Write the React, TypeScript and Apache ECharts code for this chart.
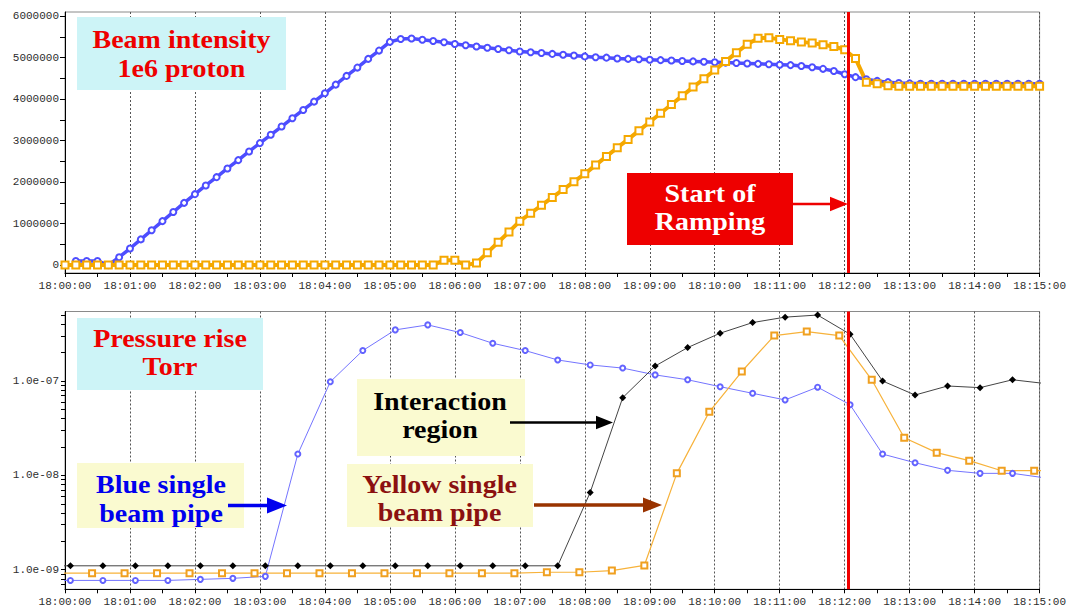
import React, { useEffect, useRef } from "react";
import * as echarts from "echarts";

// ---- Beam intensity (top panel), one sample every 10 s from 18:00:00, in millions of protons
const INTENSITY_STEP_S = 10;
const MILLION = 1e6;

const blueIntensity: (number | null)[] = [
  null, 0.10, 0.10, 0.10, 0.00, 0.19, 0.40, 0.62, 0.84, 1.06,
  1.28, 1.50, 1.71, 1.92, 2.12, 2.33, 2.53, 2.74, 2.94, 3.14,
  3.34, 3.54, 3.74, 3.94, 4.14, 4.35, 4.56, 4.76, 4.97, 5.17,
  5.38, 5.45, 5.46, 5.43, 5.40, 5.37, 5.33, 5.30, 5.27, 5.24,
  5.21, 5.18, 5.15, 5.13, 5.11, 5.09, 5.07, 5.05, 5.03, 5.01,
  5.00, 4.98, 4.97, 4.96, 4.95, 4.94, 4.93, 4.92, 4.91, 4.90,
  4.89, 4.88, 4.87, 4.86, 4.85, 4.84, 4.83, 4.82, 4.80, 4.77,
  4.73, 4.68, 4.60, 4.53, 4.48, 4.44, 4.41, 4.39, 4.38, 4.37,
  4.37, 4.37, 4.37, 4.37, 4.37, 4.37, 4.37, 4.37, 4.37, 4.37,
  4.37,
];

const yellowIntensity: number[] = [
  0.00, 0.00, 0.00, 0.00, 0.00, 0.00, 0.00, 0.00, 0.00, 0.00,
  0.00, 0.00, 0.00, 0.00, 0.00, 0.00, 0.00, 0.00, 0.00, 0.00,
  0.00, 0.00, 0.00, 0.00, 0.00, 0.00, 0.00, 0.00, 0.00, 0.00,
  0.00, 0.00, 0.00, 0.00, 0.00, 0.12, 0.12, 0.00, 0.05, 0.30,
  0.55, 0.80, 1.06, 1.25, 1.44, 1.63, 1.82, 2.01, 2.20, 2.41,
  2.62, 2.83, 3.03, 3.24, 3.45, 3.66, 3.87, 4.08, 4.29, 4.49,
  4.70, 4.91, 5.12, 5.32, 5.47, 5.48, 5.44, 5.41, 5.38, 5.35,
  5.31, 5.27, 5.19, 4.98, 4.41, 4.37, 4.32, 4.31, 4.31, 4.31,
  4.31, 4.31, 4.31, 4.31, 4.31, 4.31, 4.31, 4.31, 4.31, 4.31,
  4.31,
];

// ---- Pressure (bottom panel), Torr, gauges read every 30 s (seconds after 18:00:00)
const blueGaugeTimes = [
  -25, 5, 35, 65, 95, 125, 155, 185, 215, 245, 275, 305, 335, 365, 395, 425,
  455, 485, 515, 545, 575, 605, 635, 665, 695, 725, 755, 785, 815, 845, 875, 905,
];
const bluePipePressure = [
  7.7e-10, 7.7e-10, 7.7e-10, 7.7e-10, 7.7e-10, 7.9e-10, 8.1e-10, 8.5e-10,
  1.68e-8, 9.8e-8, 2.1e-7, 3.48e-7, 3.93e-7, 3.26e-7, 2.51e-7, 2.1e-7,
  1.67e-7, 1.48e-7, 1.37e-7, 1.16e-7, 1.03e-7, 8.7e-8, 7.4e-8, 6.3e-8,
  8.6e-8, 5.6e-8, 1.68e-8, 1.36e-8, 1.13e-8, 1.05e-8, 1.05e-8, 9.4e-9,
];
const interactionPressure = [
  1.1e-9, 1.1e-9, 1.1e-9, 1.1e-9, 1.1e-9, 1.1e-9, 1.1e-9, 1.1e-9,
  1.1e-9, 1.1e-9, 1.1e-9, 1.1e-9, 1.1e-9, 1.1e-9, 1.1e-9, 1.1e-9,
  1.1e-9, 6.6e-9, 6.65e-8, 1.44e-7, 2.26e-7, 3.21e-7, 4.16e-7, 4.75e-7,
  5.0e-7, 3.13e-7, 1.0e-7, 7.1e-8, 8.85e-8, 8.5e-8, 1.03e-7, 9.4e-8,
];
const yellowGaugeTimes = [
  -5, 25, 55, 85, 115, 145, 175, 205, 235, 265, 295, 325, 355, 385, 415, 445,
  475, 505, 535, 565, 595, 625, 655, 685, 715, 745, 775, 805, 835, 865, 895, 925,
];
const yellowPipePressure = [
  9.2e-10, 9.2e-10, 9.2e-10, 9.2e-10, 9.2e-10, 9.2e-10, 9.2e-10, 9.2e-10,
  9.2e-10, 9.2e-10, 9.2e-10, 9.2e-10, 9.2e-10, 9.2e-10, 9.2e-10, 9.4e-10,
  9.4e-10, 9.8e-10, 1.11e-9, 1.05e-8, 4.72e-8, 1.26e-7, 3.03e-7, 3.34e-7,
  3.03e-7, 1.03e-7, 2.5e-8, 1.74e-8, 1.43e-8, 1.12e-8, 1.12e-8, 1.12e-8,
];

// Axis labels
const intensityTickValues = [0, 1e6, 2e6, 3e6, 4e6, 5e6, 6e6];
const pressureLabelValues = [1e-9, 1e-8, 1e-7];
const RAMP_START_S = 723; // 18:12:03

const pad2 = (n: number) => String(n).padStart(2, "0");
const clockLabel = (s: number) => `18:${pad2(Math.floor(s / 60))}:${pad2(Math.round(s % 60))}`;
const sciLabel = (v: number) => {
  const e = Math.round(Math.log10(v));
  return `1.0e-${pad2(-e)}`;
};

// log-style minor tick positions: k * 10^n
const pressureTickValues: number[] = [];
for (let n = -10; n <= -7; n++) {
  for (let k = 1; k <= 9; k++) pressureTickValues.push(Number(`${k}e${n}`));
}

const AXIS_FONT = { fontFamily: "Liberation Mono", fontSize: 11, color: "#2e2e2e" };
const GRID_LINE = { show: true, lineStyle: { color: "#555", width: 1, type: [2, 2] as number[] } };

const BLUE = "#4d4dff";
const ORANGE = "#f5a800";

function timeAxis(gridIndex: number, labelMargin: number) {
  return {
    type: "value" as const,
    gridIndex,
    min: 0,
    max: 900,
    interval: 60,
    axisLine: { show: true, onZero: false, lineStyle: { color: "#000", width: 1 } },
    axisTick: { show: true, length: 4, lineStyle: { color: "#000" } },
    minorTick: { show: true, splitNumber: 2, length: 4, lineStyle: { color: "#000" } },
    axisLabel: { ...AXIS_FONT, margin: labelMargin, formatter: clockLabel, showMaxLabel: true, showMinLabel: true },
    splitLine: GRID_LINE,
  };
}

const textBlock = (x: number, y: number, text: string, fill: string, lineHeight: number) => ({
  type: "text",
  x,
  y,
  scaleX: 1.12,
  z: 101,
  style: {
    text,
    fill,
    font: "bold 25px 'Liberation Serif'",
    textAlign: "center",
    textVerticalAlign: "middle",
    lineHeight,
  },
});

const arrow = (x1: number, x2: number, y: number, color: string, w: number, head: number) => [
  { type: "line", z: 101, shape: { x1, y1: y, x2: x2 - head + 2, y2: y }, style: { stroke: color, lineWidth: w } },
  {
    type: "polygon",
    z: 101,
    shape: { points: [[x2 - head, y - head * 0.4], [x2, y], [x2 - head, y + head * 0.4]] },
    style: { fill: color },
  },
];

export default function App() {
  const ref = useRef<HTMLDivElement>(null);

  useEffect(() => {
    document.body.style.margin = "0";
    if (!ref.current) return;
    const chart = echarts.init(ref.current, undefined, { renderer: "svg" });

    const blueTop = blueIntensity.map((v, i) => [i * INTENSITY_STEP_S, v === null ? null : v * MILLION]);
    const yellowTop = yellowIntensity.map((v, i) => [i * INTENSITY_STEP_S, v * MILLION]);
    const blueBottom = bluePipePressure.map((v, i) => [blueGaugeTimes[i], v]);
    const blackBottom = interactionPressure.map((v, i) => [blueGaugeTimes[i], v]);
    const yellowBottom = yellowPipePressure.map((v, i) => [yellowGaugeTimes[i], v]);

    const rampLine = {
      silent: true,
      symbol: ["none", "none"],
      label: { show: false },
      lineStyle: { color: "#f00000", width: 3, type: "solid" },
      data: [{ xAxis: RAMP_START_S }],
    };

    chart.setOption({
      animation: false,
      backgroundColor: "#ffffff",
      grid: [
        { left: 65, top: 12, right: 27, bottom: 335, show: true, borderColor: "#8a8a8a", borderWidth: 1 },
        { left: 65, top: 311.5, right: 27, bottom: 18.7, show: true, borderColor: "#8a8a8a", borderWidth: 1 },
      ],
      xAxis: [timeAxis(0, 7), timeAxis(1, 7)],
      yAxis: [
        {
          type: "value",
          gridIndex: 0,
          min: -190000,
          max: 6100000,
          axisLine: { show: true, lineStyle: { color: "#000" } },
          axisTick: {
            show: true,
            length: 5,
            customValues: [0, 5e5, 1e6, 1.5e6, 2e6, 2.5e6, 3e6, 3.5e6, 4e6, 4.5e6, 5e6, 5.5e6, 6e6],
            lineStyle: { color: "#000" },
          },
          axisLabel: { ...AXIS_FONT, margin: 6, customValues: intensityTickValues, formatter: (v: number) => String(v) },
          splitLine: { show: false },
        },
        {
          type: "log",
          logBase: 10,
          gridIndex: 1,
          min: 6.2e-10,
          max: 5.45e-7,
          axisLine: { show: true, lineStyle: { color: "#000" } },
          axisTick: { show: true, length: 4, customValues: pressureTickValues, lineStyle: { color: "#000" } },
          axisLabel: { ...AXIS_FONT, margin: 6, customValues: pressureLabelValues, formatter: sciLabel },
          splitLine: { show: false },
          minorTick: { show: false },
        },
      ],
      series: [
        {
          name: "Blue beam intensity",
          type: "line",
          xAxisIndex: 0,
          yAxisIndex: 0,
          data: blueTop,
          symbol: "emptyCircle",
          symbolSize: 6,
          lineStyle: { color: BLUE, width: 3.5 },
          itemStyle: { color: BLUE, borderWidth: 1.4 },
          markLine: rampLine,
        },
        {
          name: "Yellow beam intensity",
          type: "line",
          xAxisIndex: 0,
          yAxisIndex: 0,
          data: yellowTop,
          symbol: "emptyRect",
          symbolSize: 7,
          lineStyle: { color: ORANGE, width: 4 },
          itemStyle: { color: ORANGE, borderWidth: 1.4 },
        },
        {
          name: "Blue single beam pipe",
          type: "line",
          xAxisIndex: 1,
          yAxisIndex: 1,
          data: blueBottom,
          symbol: "emptyCircle",
          symbolSize: 5,
          lineStyle: { color: "#7474ff", width: 1 },
          itemStyle: { color: "#6464ff", borderWidth: 1 },
          markLine: rampLine,
        },
        {
          name: "Yellow single beam pipe",
          type: "line",
          xAxisIndex: 1,
          yAxisIndex: 1,
          data: yellowBottom,
          symbol: "emptyRect",
          symbolSize: 6,
          lineStyle: { color: "#f7b23a", width: 1.2 },
          itemStyle: { color: "#f0a020", borderWidth: 1 },
        },
        {
          name: "Interaction region",
          type: "line",
          xAxisIndex: 1,
          yAxisIndex: 1,
          data: blackBottom,
          symbol: "diamond",
          symbolSize: 7,
          lineStyle: { color: "#444", width: 1 },
          itemStyle: { color: "#000" },
        },
      ],
      graphic: [
        // top panel title
        { type: "rect", z: 100, shape: { x: 77, y: 17, width: 209, height: 73 }, style: { fill: "#cdf4f7" } },
        textBlock(181.5, 54, "Beam intensity\n1e6 proton", "#ee0000", 29),
        // ramp marker
        { type: "rect", z: 100, shape: { x: 627, y: 173, width: 166, height: 72 }, style: { fill: "#ee0000" } },
        textBlock(710, 208, "Start of\nRamping", "#ffffff", 28),
        ...arrow(793, 848, 204, "#ee0000", 2.5, 18),
        // bottom panel title
        { type: "rect", z: 100, shape: { x: 77, y: 318, width: 186, height: 72 }, style: { fill: "#cdf4f7" } },
        textBlock(170, 353, "Pressure rise\nTorr", "#ee0000", 28),
        // blue pipe note
        { type: "rect", z: 100, shape: { x: 77, y: 463, width: 167, height: 65 }, style: { fill: "#fafad0" } },
        textBlock(161, 499, "Blue single\nbeam pipe", "#0000ee", 29),
        ...arrow(228, 287, 505.5, "#0000ee", 3.5, 20),
        // interaction region note
        { type: "rect", z: 100, shape: { x: 357, y: 379, width: 168, height: 77 }, style: { fill: "#fafad0" } },
        textBlock(440, 416, "Interaction\nregion", "#000000", 28),
        ...arrow(510, 613, 422.5, "#000000", 2.5, 17),
        // yellow pipe note
        { type: "rect", z: 100, shape: { x: 347, y: 464, width: 186, height: 63 }, style: { fill: "#fafad0" } },
        textBlock(439.5, 499, "Yellow single\nbeam pipe", "#8b1010", 28),
        ...arrow(534, 662, 505, "#993300", 3.5, 19),
      ],
    });

    return () => chart.dispose();
  }, []);

  return (
    <div
      ref={ref}
      style={{ position: "absolute", left: 0, top: 0, width: 1069, height: 608, background: "#fff" }}
    />
  );
}
